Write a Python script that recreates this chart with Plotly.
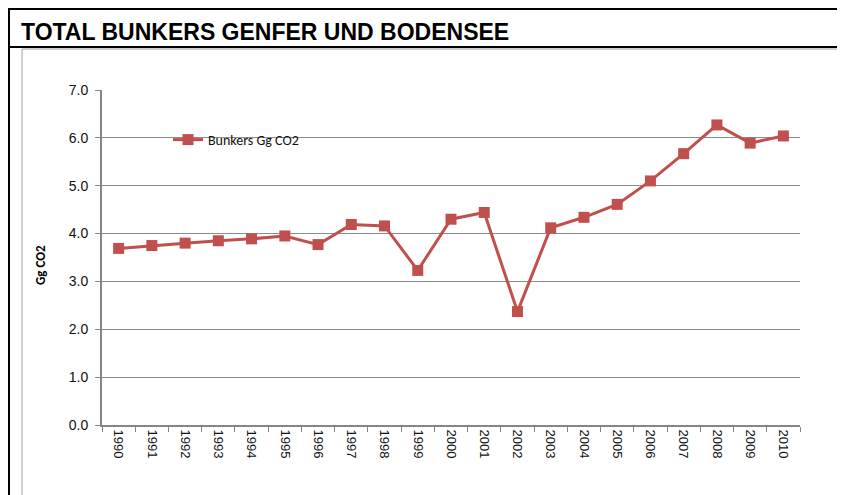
import plotly.graph_objs as go

# data
years = [str(y) for y in range(1990, 2011)]
bunkers = [3.69, 3.75, 3.80, 3.85, 3.89, 3.95, 3.77, 4.19, 4.16, 3.23, 4.30,
           4.44, 2.37, 4.12, 4.34, 4.61, 5.10, 5.67, 6.27, 5.89, 6.04]
series_name = "Bunkers Gg CO2"
y_ticks = [0, 1, 2, 3, 4, 5, 6, 7]
y_tick_labels = ["%.1f" % v for v in y_ticks]

# the page body has an 8px margin, so the figure starts at (8, 8) in the window
OFF = 8
W, H = 845 - OFF, 495 - OFF
# plot area in window pixels
L, R, T, B = 102, 800, 90, 425


def px(x):
    return (x - L) / (R - L)


def py(y):
    return (B - y) / (B - T)


fig = go.Figure()

fig.add_trace(go.Scatter(
    x=years, y=bunkers, name=series_name, mode="lines+markers",
    line=dict(color="#C0504D", width=3),
    marker=dict(symbol="square", size=11, color="#C0504D"),
))

# frame lines of the page (window pixel positions)
shapes = [
    dict(type="line", x0=px(7), x1=px(850), y0=py(9), y1=py(9),
         line=dict(color="black", width=2)),
    dict(type="line", x0=px(9), x1=px(9), y0=py(8), y1=py(500),
         line=dict(color="black", width=2)),
    dict(type="line", x0=px(7), x1=px(850), y0=py(47), y1=py(47),
         line=dict(color="black", width=2)),
    dict(type="rect", x0=px(22), x1=px(839), y0=py(49), y1=py(510),
         line=dict(color="#A0A0A0", width=1)),
]
for s in shapes:
    s.update(xref="paper", yref="paper", layer="below")

fig.update_layout(
    width=W, height=H,
    margin=dict(l=L - OFF, r=845 - R, t=T - OFF, b=495 - B),
    paper_bgcolor="white", plot_bgcolor="white",
    font=dict(family="Liberation Sans, Arial", size=13, color="#111"),
    shapes=shapes,
    showlegend=True,
    legend=dict(x=px(168), y=py(140), xanchor="left", yanchor="middle",
                bgcolor="rgba(0,0,0,0)", itemwidth=30,
                font=dict(family="Carlito, Liberation Sans", size=14, color="#111")),
    annotations=[
        dict(text="<b>TOTAL BUNKERS GENFER UND BODENSEE</b>", xref="paper", yref="paper",
             x=px(19), y=py(32), xanchor="left", yanchor="middle", showarrow=False,
             font=dict(family="Liberation Sans, Arial", size=23, color="black")),
        dict(text="<b>Gg CO2</b>", xref="paper", yref="paper", textangle=-90,
             x=px(40), y=py(265), xanchor="center", yanchor="middle", showarrow=False,
             font=dict(family="Carlito, Liberation Sans", size=13, color="black")),
    ],
)

fig.update_xaxes(
    type="category", range=[-0.5, len(years) - 0.5], tickangle=90, showgrid=False,
    showline=True, linecolor="#868686", linewidth=2,
    ticks="outside", tickson="boundaries", ticklen=5, tickcolor="#868686",
)
fig.update_yaxes(
    range=[0, 7], tickvals=y_ticks, ticktext=y_tick_labels,
    tickfont=dict(size=14), ticklabelstandoff=4,
    showgrid=True, gridcolor="#8C8C8C", gridwidth=1,
    showline=True, linecolor="#868686", linewidth=2,
    ticks="outside", ticklen=5, tickcolor="#868686", zeroline=False,
)

fig.write_html("out.html")
